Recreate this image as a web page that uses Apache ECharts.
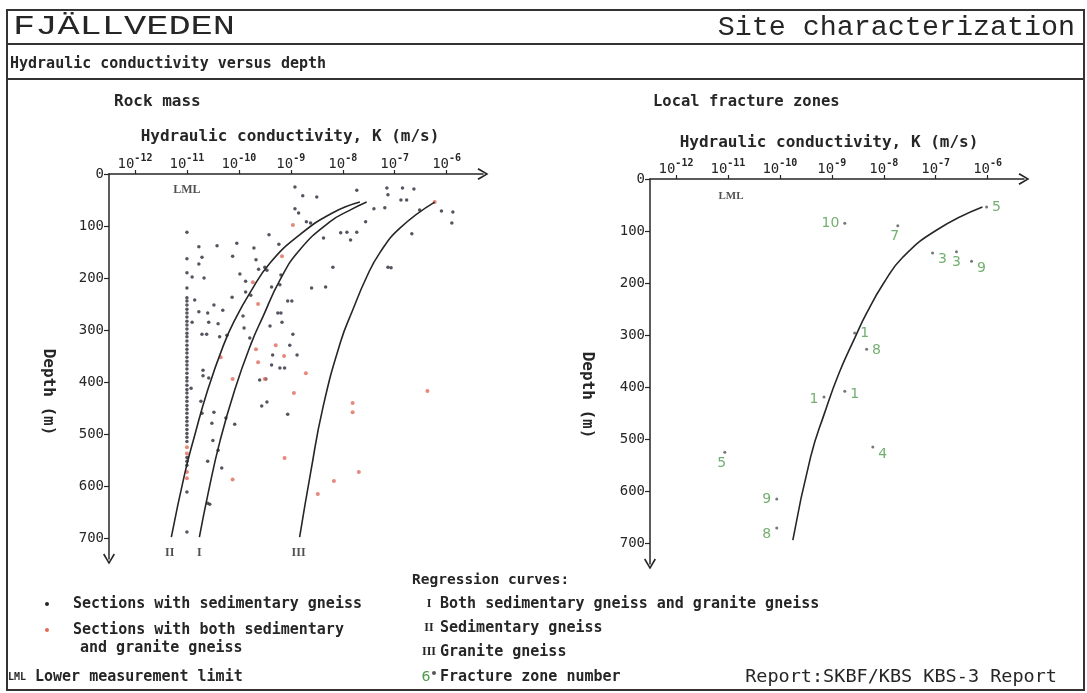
<!DOCTYPE html>
<html>
<head>
<meta charset="utf-8">
<script src="https://cdn.jsdelivr.net/npm/echarts@6/dist/echarts.min.js"></script>
<style>
html, body { margin: 0; background: #fff; }
#main { width: 1087px; height: 693px; }
</style>
</head>
<body>
<div id="main"></div>
<script>
// all K values are log10(K), depths in metres
var xExps = [-12, -11, -10, -9, -8, -7, -6];
var depthTicks = [0, 100, 200, 300, 400, 500, 600, 700];

// rock mass, sections with sedimentary gneiss [logK, depth]
var sedPts = [
  [-7.73,31],[-7.15,27],[-6.85,27],[-6.63,29],[-7.13,40],[-6.88,50],[-6.77,50],[-7.40,67],[-7.19,65],
  [-6.52,69],[-6.10,71],[-5.88,73],[-5.90,94],[-7.56,92],[-8.04,113],[-7.92,112],[-7.73,112],[-7.85,127],
  [-6.67,115],[-8.37,123],[-8.77,42],[-8.50,44],[-8.70,92],[-8.62,94],[-8.19,179],[-7.13,179],[-7.07,180],
  [-8.60,219],[-8.33,217],[-8.92,25],[-8.92,67],[-8.85,75],
  [-11.0,112],[-10.77,140],[-10.42,138],[-10.04,133],[-9.71,142],[-9.42,117],[-9.23,135],[-11.0,163],
  [-10.71,160],[-10.77,173],[-10.12,158],[-9.67,165],[-11.0,190],[-10.90,198],[-10.67,200],[-9.98,192],
  [-9.62,183],[-9.50,179],[-9.46,185],[-9.87,206],[-11.0,219],[-11.0,238],[-10.85,242],[-10.13,237],
  [-9.87,227],[-9.77,233],[-9.37,217],[-9.21,213],[-9.19,194],[-9.06,244],[-8.98,244],
  [-10.77,265],[-10.60,267],[-10.48,252],[-10.31,262],[-10.90,285],[-10.58,285],[-10.40,288],[-9.92,273],
  [-9.90,296],[-9.40,292],[-9.25,267],[-9.19,267],[-9.17,285],[-10.71,308],[-10.62,308],[-10.37,313],
  [-10.23,310],[-9.79,315],[-8.96,308],[-9.02,329],
  [-10.69,377],[-10.69,388],[-10.58,392],[-10.92,412],[-10.73,437],[-10.71,460],[-10.48,458],[-10.52,479],
  [-10.25,469],[-10.08,481],[-10.50,512],[-10.40,531],[-10.60,552],[-10.33,565],[-10.60,633],[-10.56,635],
  [-11.0,611],[-11.0,688],
  [-9.35,348],[-9.21,373],[-9.12,373],[-9.37,367],[-8.88,348],[-9.60,396],[-9.48,394],[-9.56,446],
  [-9.46,438],[-9.06,462]
];
// dots sitting on the lower measurement limit (10^-11)
var lmlK = -11.0;
var lmlDepths = [244,252,260,267,275,283,290,298,306,313,321,329,337,344,352,360,367,375,383,391,398,
  406,414,421,429,437,445,452,460,468,475,483,491,499,506,514,545,552,560];

// sections with both sedimentary and granite gneiss
var bothPts = [
  [-8.96,98],[-9.17,158],[-9.73,208],[-9.63,250],[-9.29,329],[-9.67,337],[-10.35,352],[-10.12,394],
  [-9.63,362],[-9.13,350],[-9.50,394],[-8.71,383],[-8.94,421],[-9.12,546],[-10.12,587],[-11.0,525],
  [-11.0,537],[-11.0,573],[-11.0,585],[-8.48,615],[-6.37,417],[-7.81,440],[-7.81,458],[-7.69,573],
  [-8.17,590],[-6.23,54]
];

// regression curves
var curveI = [[-7.54,54],[-7.87,70],[-8.25,92],[-8.83,146],[-9.21,204],[-9.54,275],[-9.76,325],
  [-10.08,415],[-10.36,512],[-10.58,608],[-10.76,698]];
var curveII = [[-7.67,54],[-8.20,75],[-8.83,117],[-9.40,171],[-9.79,229],[-10.08,281],[-10.28,325],
  [-10.60,415],[-10.86,506],[-11.04,575],[-11.30,698]];
var curveIII = [[-6.23,54],[-6.90,104],[-7.29,152],[-7.54,198],[-7.81,262],[-8.04,322],[-8.38,448],
  [-8.62,575],[-8.83,698]];
var curveNames = ['II', 'I', 'III'];
var curveNameK = [-11.33, -10.76, -8.85];

// local fracture zones
var zoneCurve = [[-6.10,54],[-6.98,98],[-7.63,150],[-8.00,200],[-8.33,258],[-8.55,304],[-8.86,373],
  [-9.14,450],[-9.41,535],[-9.75,694]];
var zoneNo = ['5','10','7','3','3','9','1','8','1','1','4','5','9','8'];
var zoneK = [-6.02,-8.75,-7.73,-7.06,-6.60,-6.31,-8.56,-8.33,-9.15,-8.75,-8.21,-11.06,-10.06,-10.06];
var zoneDepth = [54,85,90,142,140,158,296,327,419,408,515,525,615,671];
var zoneLabelPos = ['right','left','bottom','right','bottom','right','right','right','left','right',
  'right','bottom','left','left'];
var zoneLabelOff = [[0,0],[0,0],[-3,-2],[0,6],[0,-2],[0,7],[0,0],[0,1],[0,2],[0,3],[0,7],[-3,-1],[0,0],[0,6]];

var F = '"DejaVu Sans Mono", monospace';
var INK = '#262626';
var GREEN = '#4f9a4b';
var ARROW = 'path://M6,0 L12,10 L10.6,11 L6,3 L1.4,11 L0,10 Z';

function xAxisFor(i) {
  return {
    type: 'value', gridIndex: i, position: 'top', min: -12.5, max: -5.3,
    axisLine: { show: true, onZero: false, symbol: ['none', ARROW], symbolSize: [12, 11],
      lineStyle: { color: INK, width: 1.5 } },
    axisTick: { show: true, customValues: xExps, length: 4, lineStyle: { color: INK, width: 1.2 } },
    axisLabel: {
      customValues: xExps, margin: 3, color: INK,
      formatter: function (v) { return '{b|10}{s|' + (v < 0 ? '-' : '') + Math.abs(v) + '}'; },
      rich: {
        b: { fontSize: 14, fontFamily: F, color: INK, verticalAlign: 'bottom', lineHeight: 18 },
        s: { fontSize: 10, fontFamily: F, fontWeight: 'bold', color: INK, verticalAlign: 'top', lineHeight: 10 }
      }
    },
    splitLine: { show: false }
  };
}
function yAxisFor(i) {
  // inverse axis: the arrow goes on the start end of the line, which is the deep end
  return {
    type: 'value', gridIndex: i, inverse: true, min: 0, max: 740,
    axisLine: { show: true, onZero: false, symbol: [ARROW, 'none'], symbolSize: [12, 11],
      lineStyle: { color: INK, width: 1.5 } },
    axisTick: { show: true, customValues: depthTicks, length: 5, lineStyle: { color: INK, width: 1.2 } },
    axisLabel: { customValues: depthTicks, margin: 5, color: INK, fontSize: 14, fontFamily: F },
    splitLine: { show: false }
  };
}
function curve(data) {
  return { type: 'line', xAxisIndex: 0, yAxisIndex: 0, data: data, smooth: true, showSymbol: false,
    silent: true, lineStyle: { color: INK, width: 1.6 } };
}

function text(x, y, s, size, opts) {
  opts = opts || {};
  var el = { type: 'text', x: x, y: y, silent: true, style: {
    text: s, fill: opts.fill || INK,
    font: (opts.weight || 'bold') + ' ' + size + 'px ' + (opts.family || F),
    align: opts.align || 'left', verticalAlign: 'middle' } };
  if (opts.scaleX) el.scaleX = opts.scaleX;
  if (opts.rotation) el.rotation = opts.rotation;
  return el;
}
function hline(x1, x2, y) {
  return { type: 'line', silent: true, shape: { x1: x1, y1: y, x2: x2, y2: y },
    style: { stroke: '#333', lineWidth: 2 } };
}
function dot(x, y, c) {
  return { type: 'circle', silent: true, shape: { cx: x, cy: y, r: 2 }, style: { fill: c } };
}

var SERIF = '"Liberation Serif", serif';
var graphics = [
  { type: 'rect', silent: true, shape: { x: 7, y: 10, width: 1077, height: 680 },
    style: { fill: 'none', stroke: '#333', lineWidth: 2 } },
  hline(7, 1084, 44), hline(7, 1084, 79),
  text(13, 27, 'FJÄLLVEDEN', 27, { weight: 'normal', family: '"Liberation Mono", monospace', scaleX: 1.37 }),
  text(1075, 28, 'Site characterization', 27, { weight: 'normal', family: '"Liberation Mono", monospace', align: 'right', scaleX: 1.05 }),
  text(10, 64, 'Hydraulic conductivity versus depth', 15),
  text(114, 102, 'Rock mass', 16),
  text(653, 102, 'Local fracture zones', 15.5),
  text(290, 137, 'Hydraulic conductivity, K (m/s)', 16, { align: 'center' }),
  text(829, 143, 'Hydraulic conductivity, K (m/s)', 16, { align: 'center' }),
  text(48, 392, 'Depth (m)', 16, { align: 'center', rotation: -Math.PI / 2 }),
  text(587, 395, 'Depth (m)', 16, { align: 'center', rotation: -Math.PI / 2 }),
  // legend
  text(412, 580, 'Regression curves:', 14.5),
  dot(47, 604, INK), text(73, 604, 'Sections with sedimentary gneiss', 15),
  dot(47, 630, '#e06a5a'), text(73, 630, 'Sections with both sedimentary', 15),
  text(80, 648, 'and granite gneiss', 15),
  text(8, 677, 'LML', 10), text(35, 677, 'Lower measurement limit', 15),
  text(429, 604, 'I', 12, { align: 'center', family: SERIF }), text(440, 604, 'Both sedimentary gneiss and granite gneiss', 15),
  text(429, 628, 'II', 12, { align: 'center', family: SERIF }), text(440, 628, 'Sedimentary gneiss', 15),
  text(429, 652, 'III', 12, { align: 'center', family: SERIF }), text(440, 652, 'Granite gneiss', 15),
  text(426, 677, '6', 14, { align: 'center', weight: 'normal', family: '"DejaVu Sans", sans-serif', fill: GREEN }),
  dot(434, 673, '#555'), text(440, 677, 'Fracture zone number', 15),
  text(1057, 677, 'Report:SKBF/KBS KBS-3 Report', 18.5, { weight: 'normal', align: 'right' })
];

var chart = echarts.init(document.getElementById('main'));
chart.setOption({
  backgroundColor: '#fff',
  animation: false,
  grid: [
    { left: 109, top: 174, width: 374, height: 385 },
    { left: 650, top: 179, width: 374, height: 385 }
  ],
  xAxis: [xAxisFor(0), xAxisFor(1)],
  yAxis: [yAxisFor(0), yAxisFor(1)],
  graphic: graphics,
  series: [
    { name: 'Sections with sedimentary gneiss', type: 'scatter', xAxisIndex: 0, yAxisIndex: 0,
      symbolSize: 3.5, itemStyle: { color: '#2b2b3a' },
      data: sedPts.concat(lmlDepths.map(function (d) { return [lmlK, d]; })) },
    { name: 'Sections with both sedimentary and granite gneiss', type: 'scatter', xAxisIndex: 0, yAxisIndex: 0,
      symbolSize: 4, itemStyle: { color: '#e06a5a' }, data: bothPts },
    curve(curveI), curve(curveII), curve(curveIII),
    { type: 'scatter', xAxisIndex: 0, yAxisIndex: 0, symbolSize: 1, silent: true,
      itemStyle: { color: 'transparent' },
      label: { show: true, position: 'inside', formatter: '{b}', color: INK, fontSize: 12,
        fontWeight: 'bold', fontFamily: SERIF },
      data: curveNames.map(function (n, i) { return { name: n, value: [curveNameK[i], 728] }; })
        .concat([{ name: 'LML', value: [lmlK, 31] }]) },
    { type: 'line', xAxisIndex: 1, yAxisIndex: 1, data: zoneCurve, smooth: true, showSymbol: false,
      silent: true, lineStyle: { color: INK, width: 1.6 } },
    { type: 'scatter', xAxisIndex: 1, yAxisIndex: 1, symbolSize: 1, silent: true,
      itemStyle: { color: 'transparent' },
      label: { show: true, position: 'inside', formatter: '{b}', color: INK, fontSize: 11,
        fontWeight: 'bold', fontFamily: SERIF },
      data: [{ name: 'LML', value: [-10.94, 33] }] },
    { name: 'Fracture zone number', type: 'scatter', xAxisIndex: 1, yAxisIndex: 1,
      symbolSize: 3, itemStyle: { color: '#555' },
      label: { show: true, formatter: '{b}', color: GREEN, fontSize: 14,
        fontFamily: '"DejaVu Sans", sans-serif', distance: 4 },
      data: zoneNo.map(function (n, i) {
        return { name: n, value: [zoneK[i], zoneDepth[i]],
          label: { position: zoneLabelPos[i], offset: zoneLabelOff[i] } };
      }) }
  ]
});
</script>
</body>
</html>
